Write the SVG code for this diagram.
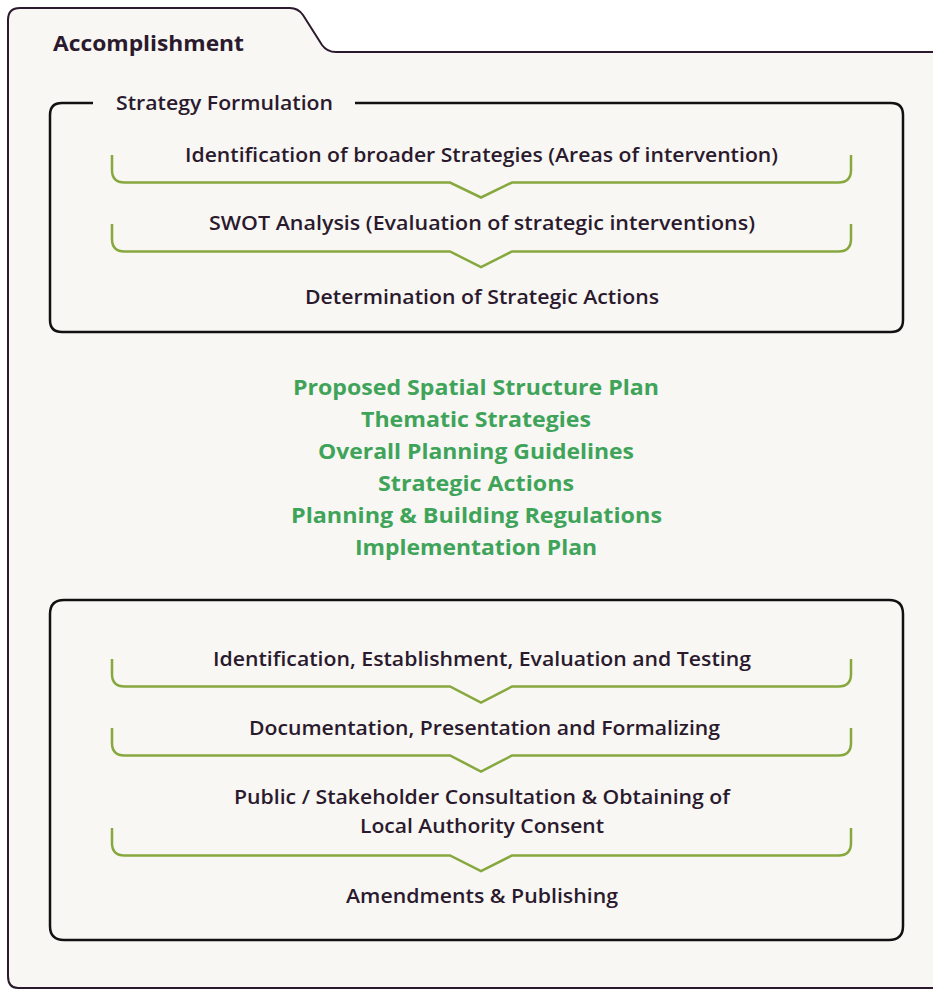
<svg xmlns="http://www.w3.org/2000/svg" width="933" height="990" viewBox="0 0 933 990">
<style>
.frame{fill:none;stroke:#111;stroke-width:2.5}
.br{fill:none;stroke:#86a83e;stroke-width:2.5;stroke-linejoin:miter}
.t{font-family:"Open Sans","Liberation Sans",sans-serif;font-weight:600;font-size:19px;fill:#2b1a2e;text-anchor:middle}
.g{font-family:"Open Sans","Liberation Sans",sans-serif;font-weight:700;font-size:22px;fill:#3fa45a;text-anchor:middle}
.h{font-family:"Open Sans","Liberation Sans",sans-serif;font-weight:700;font-size:22px;fill:#2b1a2e}
</style>
<rect width="933" height="990" fill="#ffffff"/>
<g id="folder">
<path d="M8,976 V20 Q8,8 20,8 H290 Q298,8 303,15 L322,45 Q327,52 336,52 H934 V988 H18 Q8,988 8,976 Z" fill="#f8f7f3" stroke="#2b1a2e" stroke-width="2"/>
<text class="h" x="53" y="51" textLength="191" lengthAdjust="spacingAndGlyphs">Accomplishment</text>
</g>
<g id="strategy-formulation">
<path class="frame" d="M93,103 H62 Q50,103 50,115 V320 Q50,332 62,332 H891 Q903,332 903,320 V115 Q903,103 891,103 H355"/>
<text class="t" x="224.5" y="110" textLength="217" lengthAdjust="spacingAndGlyphs">Strategy Formulation</text>
</g>
<g id="sf-step1">
<text class="t" x="481.5" y="162" textLength="593" lengthAdjust="spacingAndGlyphs">Identification of broader Strategies (Areas of intervention)</text>
</g>
<g id="sf-step2">
<text class="t" x="482" y="230" textLength="546" lengthAdjust="spacingAndGlyphs">SWOT Analysis (Evaluation of strategic interventions)</text>
</g>
<g id="sf-step3">
<text class="t" x="482" y="304" textLength="354" lengthAdjust="spacingAndGlyphs">Determination of Strategic Actions</text>
</g>
<g id="outputs">
<text class="g" x="476" y="395" textLength="366" lengthAdjust="spacingAndGlyphs">Proposed Spatial Structure Plan</text>
<text class="g" x="476" y="427" textLength="230" lengthAdjust="spacingAndGlyphs">Thematic Strategies</text>
<text class="g" x="476" y="459" textLength="316" lengthAdjust="spacingAndGlyphs">Overall Planning Guidelines</text>
<text class="g" x="476" y="491" textLength="196" lengthAdjust="spacingAndGlyphs">Strategic Actions</text>
<text class="g" x="476.5" y="523" textLength="371" lengthAdjust="spacingAndGlyphs">Planning &amp; Building Regulations</text>
<text class="g" x="476" y="555" textLength="242" lengthAdjust="spacingAndGlyphs">Implementation Plan</text>
</g>
<g id="process">
<path class="frame" d="M64,600 H889 Q903,600 903,614 V926 Q903,940 889,940 H64 Q50,940 50,926 V614 Q50,600 64,600 Z"/>
</g>
<g id="p-step1">
<text class="t" x="482" y="666" textLength="538" lengthAdjust="spacingAndGlyphs">Identification, Establishment, Evaluation and Testing</text>
</g>
<g id="p-step2">
<text class="t" x="484.5" y="735" textLength="471" lengthAdjust="spacingAndGlyphs">Documentation, Presentation and Formalizing</text>
</g>
<g id="p-step3">
<text class="t" x="482" y="804" textLength="496" lengthAdjust="spacingAndGlyphs">Public / Stakeholder Consultation &amp; Obtaining of</text>
<text class="t" x="482" y="833" textLength="244" lengthAdjust="spacingAndGlyphs">Local Authority Consent</text>
</g>
<g id="p-step4">
<text class="t" x="482" y="903" textLength="272" lengthAdjust="spacingAndGlyphs">Amendments &amp; Publishing</text>
</g>
<g id="connectors">
<path class="br" d="M112,155 V170 Q112,182.5 124.5,182.5 H450 L481,197.5 L512,182.5 H838.5 Q851,182.5 851,170 V155"/>
<path class="br" d="M112,224 V239 Q112,251.5 124.5,251.5 H450 L481,267 L512,251.5 H838.5 Q851,251.5 851,239 V224"/>
<path class="br" d="M112,659 V674 Q112,686.5 124.5,686.5 H450 L481,702.5 L512,686.5 H838.5 Q851,686.5 851,674 V659"/>
<path class="br" d="M112,728 V743 Q112,755.5 124.5,755.5 H450 L481,771.5 L512,755.5 H838.5 Q851,755.5 851,743 V728"/>
<path class="br" d="M112,828 V843 Q112,855.5 124.5,855.5 H450 L481,871 L512,855.5 H838.5 Q851,855.5 851,843 V828"/>
</g>
</svg>
